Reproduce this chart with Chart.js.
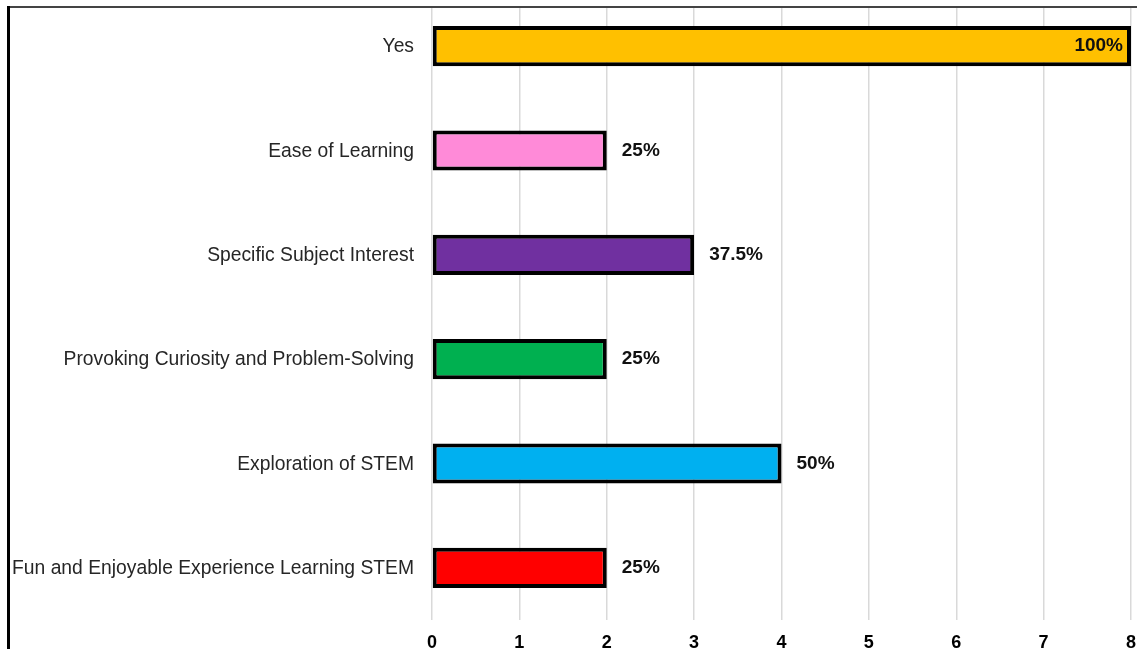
<!DOCTYPE html>
<html>
<head>
<meta charset="utf-8">
<script src="https://cdn.jsdelivr.net/npm/chart.js@4.4.1/dist/chart.umd.min.js"></script>
<style>
  html, body { margin: 0; padding: 0; background: #fff; width: 1137px; height: 649px; overflow: hidden; }
  #clip { position: absolute; left: 0; top: 7px; width: 1137px; height: 642px; overflow: hidden; }
  #c { position: absolute; left: 0; top: -20px; }
  #topline { position: absolute; left: 7px; top: 6px; width: 1130px; height: 1.5px; background: #444; }
  #leftline { position: absolute; left: 7px; top: 6px; width: 2.5px; height: 643px; background: #000; }
</style>
</head>
<body>
<div id="clip"><canvas id="c" width="1137" height="662"></canvas></div>
<div id="topline"></div>
<div id="leftline"></div>
<script>
const categories = [
  "Yes",
  "Ease of Learning",
  "Specific Subject Interest",
  "Provoking Curiosity and Problem-Solving",
  "Exploration of STEM",
  "Fun and Enjoyable Experience Learning STEM"
];
const counts = [8, 2, 3, 2, 4, 2];
const percentLabels = ["100%", "25%", "37.5%", "25%", "50%", "25%"];
const barColors = ["#FFC000", "#FF8AD8", "#7030A0", "#00B050", "#00B0F0", "#FF0000"];
const xTicks = [0, 1, 2, 3, 4, 5, 6, 7, 8];

const valueLabels = {
  id: 'valueLabels',
  afterDatasetsDraw(chart) {
    const ctx = chart.ctx;
    const meta = chart.getDatasetMeta(0);
    const xMax = chart.scales.x.max;
    ctx.save();
    ctx.font = 'bold 19px "Liberation Sans", Arial, sans-serif';
    ctx.fillStyle = '#111';
    ctx.textBaseline = 'middle';
    meta.data.forEach((bar, i) => {
      const v = counts[i];
      const txt = percentLabels[i];
      if (v >= xMax) {
        ctx.textAlign = 'right';
        ctx.fillText(txt, bar.x - 8, bar.y);
      } else {
        ctx.textAlign = 'left';
        ctx.fillText(txt, bar.x + 15, bar.y);
      }
    });
    ctx.restore();
  }
};

function zeroPad(scale) {
  scale.paddingTop = 0; scale.paddingBottom = 0;
  scale.paddingLeft = 0; scale.paddingRight = 0;
}

new Chart(document.getElementById('c'), {
  type: 'bar',
  data: {
    labels: categories,
    datasets: [{
      data: counts,
      backgroundColor: barColors,
      borderColor: '#000',
      borderWidth: 4,
      borderSkipped: false,
      barPercentage: 0.385,
      categoryPercentage: 1
    }]
  },
  options: {
    indexAxis: 'y',
    responsive: false,
    animation: false,
    devicePixelRatio: 1,
    layout: { padding: { top: 7, right: 6, bottom: 0, left: 0 } },
    plugins: { legend: { display: false }, tooltip: { enabled: false } },
    scales: {
      x: {
        min: 0, max: 8,
        afterBuildTicks(scale) { scale.ticks = xTicks.map(v => ({ value: v })); },
        afterFit(scale) { scale.height = 29; zeroPad(scale); },
        grid: { color: '#d9d9d9', lineWidth: 1.5, drawTicks: false, tickLength: 0 },
        border: { display: false },
        ticks: {
          padding: 12,
          color: '#000',
          font: { family: '"Liberation Sans", Arial, sans-serif', size: 18, weight: 'bold' },
          maxRotation: 0
        }
      },
      y: {
        afterFit(scale) { scale.width = 432; zeroPad(scale); },
        grid: { display: false, drawTicks: false, tickLength: 0 },
        border: { display: false },
        ticks: {
          padding: 18,
          labelOffset: 1,
          color: '#262626',
          font: { family: '"Liberation Sans", Arial, sans-serif', size: 19.3 }
        }
      }
    }
  },
  plugins: [valueLabels]
});
</script>
</body>
</html>
